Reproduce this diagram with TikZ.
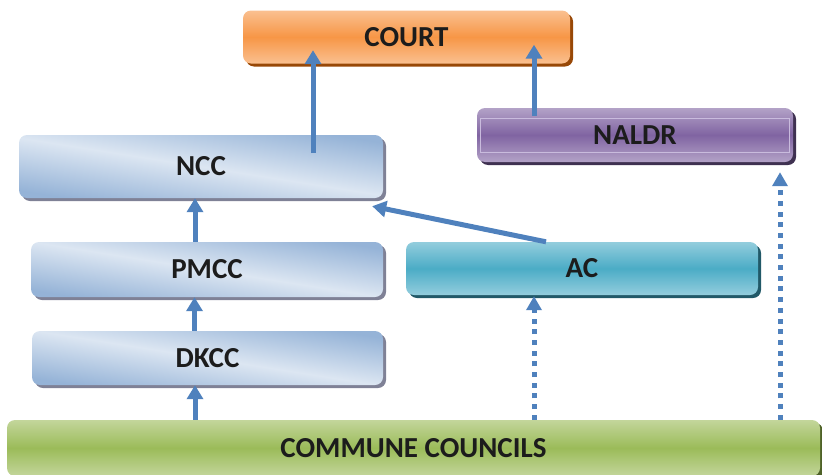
\documentclass[tikz,border=0pt]{standalone}
\usepackage{fontspec}
\setmainfont{Carlito}
\usetikzlibrary{shadows,arrows.meta}
\definecolor{arrowblue}{HTML}{4F81BD}
\definecolor{txt}{HTML}{1C1C1C}
\definecolor{orM}{HTML}{F79646}
\definecolor{orL}{HTML}{FAC090}
\definecolor{orS}{HTML}{984807}
\definecolor{puM}{HTML}{8064A2}
\definecolor{puL}{HTML}{B3A2C7}
\definecolor{puS}{HTML}{3F3151}
\definecolor{puLine}{HTML}{C9BBDD}
\definecolor{tqM}{HTML}{4BACC6}
\definecolor{tqL}{HTML}{93CDDD}
\definecolor{tqS}{HTML}{215968}
\definecolor{grM}{HTML}{9BBB59}
\definecolor{grL}{HTML}{C3D69B}
\definecolor{grS}{HTML}{4F6228}
\definecolor{blD}{HTML}{95B3D7}
\definecolor{blL}{HTML}{DCE6F2}
\definecolor{blS}{HTML}{7F8196}
\begin{document}
\begin{tikzpicture}[x=1pt,y=-1pt,
  box/.style={rounded corners=8pt, inner sep=0pt, font=\fontsize{29}{32}\selectfont\bfseries, text=txt},
  vshade/.style 2 args={top color=#2, bottom color=#2, middle color=#1},
  shade/.style={general shadow={shadow xshift=3pt, shadow yshift=-3pt, fill=#1}},
  bluebox/.style={box, top color=blD, bottom color=blD, middle color=blL, shading angle=-9, shade=blS},
  arr/.style={line width=5pt, draw=arrowblue, -{Triangle[width=16pt,length=14pt]}},
  dots/.style={line width=5pt, draw=arrowblue, dash pattern=on 5pt off 5.7pt, -{Triangle[width=15pt,length=14pt]}},
]
\useasboundingbox (0,0) rectangle (822,474);

\node[box, vshade={orM}{orL}, shade=orS, minimum width=327pt, minimum height=53pt] (court) at (406.5,37) {COURT};
\node[bluebox, minimum width=364pt, minimum height=63pt] (ncc) at (201,166.5) {NCC};
\node[box, vshade={puM}{puL}, shade=puS, minimum width=316pt, minimum height=54pt] (naldr) at (635,135) {NALDR};
\draw[puLine, line width=0.6pt] ([shift={(3,10)}]naldr.north west) rectangle ([shift={(-4,-10)}]naldr.south east);
\node[box, vshade={tqM}{tqL}, shade=tqS, minimum width=352pt, minimum height=53pt] (ac) at (582,268.5) {AC};
\node[bluebox, minimum width=352pt, minimum height=55pt] (pmcc) at (207,269.5) {PMCC};
\node[bluebox, minimum width=351pt, minimum height=54pt] (dkcc) at (207.5,358) {DKCC};
\node[box, vshade={grM}{grL}, shade=grS, minimum width=813pt, minimum height=56pt] (cc) at (413.5,448) {COMMUNE COUNCILS};

% solid arrows
\draw[arr] ([xshift=-12.5pt]dkcc.south |- cc.north) -- ([xshift=-12.5pt]dkcc.south);
\draw[arr] ([xshift=-12.5pt]pmcc.south |- dkcc.north) -- ([xshift=-12.5pt]pmcc.south);
\draw[arr] ([xshift=-6pt]ncc.south |- pmcc.north) -- ([xshift=-6pt]ncc.south);
\draw[arr] ([shift={(112,-13.5)}]ncc.center) -- ([shift={(112,-13.5)}]ncc.center |- court.south);
\draw[arr] ([shift={(-101,-19)}]naldr.center) -- ([shift={(-101,-19)}]naldr.center |- court.south);
\draw[arr] ([xshift=-36pt]ac.north) -- ([shift={(-11,8)}]ncc.south east);

% dotted arrows
\coordinate (dA) at ([xshift=-48pt]ac.south);
\draw[dots] (dA |- cc.north) -- ([yshift=-1pt]dA);
\coordinate (dN) at ([xshift=145pt]naldr.south);
\draw[dots] (dN |- cc.north) -- ([yshift=-10pt]dN);
\end{tikzpicture}
\end{document}
